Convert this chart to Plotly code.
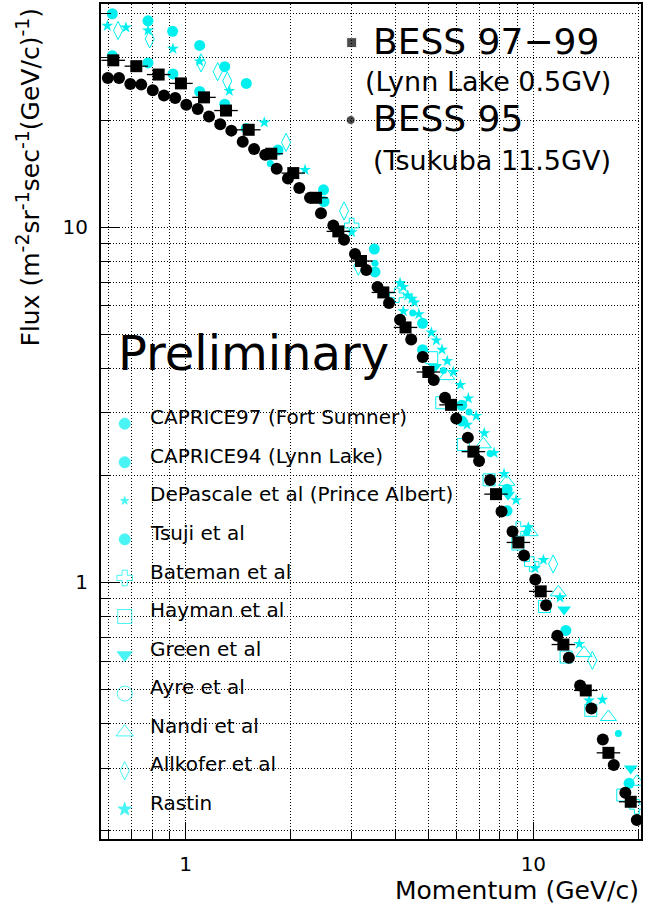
import plotly.graph_objects as go

# ---------------- data (momentum GeV/c, flux) ----------------
bess97_p = [0.619, 0.721, 0.836, 0.969, 1.129, 1.306, 1.518, 1.763, 2.039, 2.371, 2.748, 3.193,
            3.702, 4.289, 4.988, 5.798, 6.722, 7.810, 9.055, 10.50, 12.20, 14.15, 16.44, 19.06]
bess97_f = [29.5, 28.4, 26.9, 25.4, 23.2, 21.3, 18.8, 16.1, 14.2, 12.1, 9.73, 8.03,
            6.55, 5.22, 3.91, 3.16, 2.333, 1.771, 1.295, 0.943, 0.668, 0.496, 0.331, 0.241]
bess97_bin_ratio = 1.081  # half-bin width as momentum ratio

bess95_p = [0.597, 0.643, 0.693, 0.745, 0.804, 0.866, 0.933, 1.004, 1.083, 1.167, 1.257, 1.353,
            1.459, 1.573, 1.694, 1.827, 1.969, 2.122, 2.279, 2.450, 2.658, 2.854, 3.069, 3.307,
            3.562, 3.845, 4.136, 4.453, 4.806, 5.17, 5.57, 6.00, 6.48, 6.98, 7.51, 8.10,
            8.71, 9.40, 10.13, 10.88, 11.72, 12.65, 13.63, 14.69, 15.84, 17.03, 18.39, 19.84]
bess95_f = [26.3, 26.3, 25.3, 25.2, 24.3, 23.5, 23.1, 22.1, 21.5, 20.5, 19.5, 18.7,
            17.4, 16.6, 16.0, 14.6, 13.7, 12.9, 12.1, 10.95, 10.11, 9.22, 8.40, 7.57,
            6.79, 6.12, 5.49, 4.83, 4.31, 3.71, 3.31, 2.89, 2.555, 2.197, 1.940, 1.583,
            1.391, 1.189, 1.018, 0.862, 0.707, 0.613, 0.512, 0.441, 0.361, 0.306, 0.2554, 0.2141]

caprice97_p = [0.615, 0.779, 0.917, 1.097, 1.295, 1.494, 2.491, 3.488, 4.800, 6.223, 8.40, 12.40]
caprice97_f = [39.9, 38.1, 35.6, 32.5, 28.3, 25.4, 12.74, 8.68, 5.36, 3.152, 1.827, 0.732]

caprice94_p = [0.615, 0.779, 0.919, 1.097, 1.295, 1.494, 1.843, 2.500, 3.504, 4.800, 6.223, 8.40, 18.85]
caprice94_f = [30.4, 29.0, 27.0, 24.1, 22.2, 18.97, 16.48, 11.81, 7.48, 4.52, 2.846, 1.590, 0.2716]

depascale_p = [0.595, 0.673, 0.779, 0.919, 1.097, 1.335, 1.683, 2.204, 3.002]
depascale_f = [36.9, 36.5, 35.8, 31.8, 29.3, 24.2, 19.72, 14.50, 9.68]

tsuji_p = [1.751, 3.504, 4.499, 5.510, 6.531, 7.507, 9.573, 17.56]
tsuji_f = [15.10, 7.92, 5.73, 3.946, 3.016, 2.306, 1.384, 0.375]

bateman_p = [3.002, 4.046, 9.055, 9.894, 19.84]
bateman_f = [10.11, 6.43, 1.413, 1.126, 0.2333]

hayman_p = [5.101, 5.452, 6.289, 7.458, 9.019, 10.77, 12.42, 14.63, 18.08]
hayman_f = [4.29, 3.203, 2.443, 1.943, 1.282, 0.855, 0.616, 0.436, 0.2517]

green_p = [5.213, 8.457, 12.26, 19.06]
green_f = [4.036, 1.764, 0.838, 0.299]

ayre_p = []
ayre_f = []

nandi_p = [5.636, 7.181, 8.386, 9.784, 11.80, 13.99, 16.44, 19.84]
nandi_f = [3.808, 2.447, 1.918, 1.384, 0.937, 0.632, 0.4175, 0.2744]

allkofer_p = [0.639, 0.788, 1.107, 1.236, 1.317, 1.944, 2.854, 3.137, 11.40, 14.78]
allkofer_f = [35.8, 33.9, 29.0, 27.4, 25.8, 17.33, 11.11, 7.76, 1.126, 0.603]

rastin_p = [4.136, 4.227, 4.227, 4.352, 4.469, 4.547, 4.684, 5.088, 5.259, 5.462, 5.654, 5.886,
            6.166, 6.446, 6.501, 6.850, 7.223, 7.708, 8.236, 8.917, 9.674, 10.11, 10.69, 11.93,
            13.56, 14.46, 15.80]
rastin_f = [6.96, 6.79, 5.80, 6.42, 6.29, 6.14, 5.69, 5.05, 4.80, 4.52, 4.20, 3.914,
            3.596, 2.779, 3.296, 2.939, 2.630, 2.314, 2.020, 1.704, 1.429, 1.096, 1.156, 0.905,
            0.671, 0.465, 0.467]

x_minor = [0.6, 0.7, 0.8, 0.9, 2, 3, 4, 5, 6, 7, 8, 9, 20]
x_major = [1, 10]
y_minor = [0.2, 0.3, 0.4, 0.5, 0.6, 0.7, 0.8, 0.9, 2, 3, 4, 5, 6, 7, 8, 9, 20, 30, 40]
y_major = [1, 10]

# ---------------- style ----------------
CY = "#00f0f0"
FONT = "DejaVu Sans"

styles = {
    "CAPRICE97 (Fort Sumner)": dict(symbol="circle", size=11, color=CY, line=dict(width=0)),
    "CAPRICE94 (Lynn Lake)": dict(symbol="circle", size=11, color=CY, line=dict(width=0)),
    "DePascale et al (Prince Albert)": dict(symbol="star", size=9, color=CY, line=dict(width=0)),
    "Tsuji et al": dict(symbol="circle", size=7, color=CY, line=dict(width=0)),
    "Bateman et al": dict(symbol="cross-open", size=12, color=CY, line=dict(width=1, color=CY)),
    "Hayman et al": dict(symbol="square-open", size=12, color=CY, line=dict(width=1, color=CY)),
    "Green et al": dict(symbol="triangle-down", size=12, color=CY, line=dict(width=0)),
    "Ayre et al": dict(symbol="circle-open", size=13, color=CY, line=dict(width=1, color=CY)),
    "Nandi et al": dict(symbol="triangle-up-open", size=14, color=CY, line=dict(width=1, color=CY)),
    "Allkofer et al": dict(symbol="diamond-tall-open", size=13, color=CY, line=dict(width=1, color=CY)),
    "Rastin": dict(symbol="star", size=9, color=CY, line=dict(width=0)),
}
series = [
    ("CAPRICE97 (Fort Sumner)", caprice97_p, caprice97_f),
    ("CAPRICE94 (Lynn Lake)", caprice94_p, caprice94_f),
    ("DePascale et al (Prince Albert)", depascale_p, depascale_f),
    ("Tsuji et al", tsuji_p, tsuji_f),
    ("Bateman et al", bateman_p, bateman_f),
    ("Hayman et al", hayman_p, hayman_f),
    ("Green et al", green_p, green_f),
    ("Ayre et al", ayre_p, ayre_f),
    ("Nandi et al", nandi_p, nandi_f),
    ("Allkofer et al", allkofer_p, allkofer_f),
    ("Rastin", rastin_p, rastin_f),
]

fig = go.Figure()
for name, p, f in series:
    if p:
        fig.add_trace(go.Scatter(x=p, y=f, mode="markers", name=name, marker=styles[name],
                                 showlegend=False, cliponaxis=True))

fig.add_trace(go.Scatter(x=bess95_p, y=bess95_f, mode="markers", name="BESS 95",
                         marker=dict(symbol="circle", size=12, color="black"), showlegend=False))
r = bess97_bin_ratio
fig.add_trace(go.Scatter(
    x=bess97_p, y=bess97_f, mode="markers", name="BESS 97-99",
    marker=dict(symbol="square", size=12, color="black"),
    error_x=dict(type="data", symmetric=False,
                 array=[p * (r - 1) for p in bess97_p],
                 arrayminus=[p * (1 - 1 / r) for p in bess97_p],
                 color="black", thickness=1.3, width=0),
    showlegend=False))

# ---------------- in-plot legend (overlay axes in plot-fraction units) ----------------
W, H = 654, 913
L, R, T, B = 101, 13, 2, 74
PW, PH = W - L - R, H - T - B


def fx(px):
    return (px - L) / PW


def fy(py):
    return (H - B - py) / PH


row0_text, row0_mark, row_step = 416.3, 422.7, 38.65
names = [s[0] for s in series]
fig.add_trace(go.Scatter(
    x=[fx(124.7)] * len(names),
    y=[fy(row0_mark + i * row_step) for i in range(len(names))],
    xaxis="x2", yaxis="y2", mode="markers", showlegend=False, hoverinfo="skip",
    marker=dict(
        symbol=[styles[n]["symbol"] for n in names],
        size=[11, 11, 6, 11, 13, 14, 13, 15, 15, 13, 10],
        color=CY,
        line=dict(width=1, color=CY))))

fig.add_trace(go.Scatter(
    x=[fx(351.7), fx(350.7)], y=[fy(40.7), fy(118.3)],
    xaxis="x2", yaxis="y2", mode="markers", showlegend=False, hoverinfo="skip",
    marker=dict(symbol=["square", "circle"], size=[10, 9], color="black")))

ann = []
for i, n in enumerate(names):
    ann.append(dict(x=fx(148.3), y=fy(row0_text + i * row_step), xref="paper", yref="paper",
                    text=n, showarrow=False, xanchor="left", yanchor="middle",
                    font=dict(family=FONT, size=20, color="black")))

ann += [
    dict(x=fx(371), y=fy(40), text="BESS 97\u221299", font=dict(family=FONT, size=36, color="black")),
    dict(x=fx(363), y=fy(80), text="(Lynn Lake 0.5GV)", font=dict(family=FONT, size=27, color="black")),
    dict(x=fx(371), y=fy(117), text="BESS 95", font=dict(family=FONT, size=36, color="black")),
    dict(x=fx(371), y=fy(159), text="(Tsukuba 11.5GV)", font=dict(family=FONT, size=27, color="black")),
    dict(x=fx(116), y=fy(352), text="Preliminary", font=dict(family=FONT, size=48, color="black")),
]
for a in ann[-5:]:
    a.update(xref="paper", yref="paper", showarrow=False, xanchor="left", yanchor="middle")

ann.append(dict(x=fx(641), y=fy(891), xref="paper", yref="paper", text="Momentum (GeV/c)",
                showarrow=False, xanchor="right", yanchor="middle",
                font=dict(family=FONT, size=25, color="black")))
S = '<span style="font-size:19px">'
ann.append(dict(x=fx(28), y=fy(4), xref="paper", yref="paper",
                text=("Flux (m<sup>" + S + "-2</span></sup>sr<sup>" + S + "-1</span></sup>sec<sup>" + S
                      + "-1</span></sup>(GeV/c)<sup>" + S + "-1</span></sup>)"),
                textangle=-90, showarrow=False, xanchor="center", yanchor="top",
                font=dict(family=FONT, size=25, color="black")))

GRID = dict(showgrid=True, gridcolor="black", gridwidth=1, griddash="1px,2px")

fig.update_layout(
    width=W, height=H,
    margin=dict(l=L, r=R, t=T, b=B, pad=0),
    paper_bgcolor="white", plot_bgcolor="white",
    showlegend=False,
    annotations=ann,
    xaxis=dict(type="log", range=[-0.2436, 1.3096],
               tickvals=x_major, ticktext=["1", "10"],
               ticks="inside", ticklen=17, tickwidth=1, tickcolor="black",
               ticklabelstandoff=6,
               tickfont=dict(family=FONT, size=20, color="black"),
               showline=True, linecolor="black", linewidth=2, mirror=True,
               zeroline=False,
               minor=dict(tickvals=x_minor, ticks="inside", ticklen=8, tickcolor="black", tickwidth=1,
                          **GRID),
               **GRID),
    yaxis=dict(type="log", range=[-0.7228, 1.6284],
               tickvals=y_major, ticktext=["1", "10"],
               ticks="inside", ticklen=19, tickwidth=1, tickcolor="black",
               ticklabelstandoff=7,
               tickfont=dict(family=FONT, size=20, color="black"),
               showline=True, linecolor="black", linewidth=2, mirror=True,
               zeroline=False,
               minor=dict(tickvals=y_minor, ticks="inside", ticklen=10, tickcolor="black", tickwidth=1,
                          **GRID),
               **GRID),
    xaxis2=dict(overlaying="x", range=[0, 1], visible=False, fixedrange=True),
    yaxis2=dict(overlaying="y", range=[0, 1], visible=False, fixedrange=True),
)

fig.write_html("out.html", config={"displayModeBar": False},
               post_script="document.body.style.margin='0';")
